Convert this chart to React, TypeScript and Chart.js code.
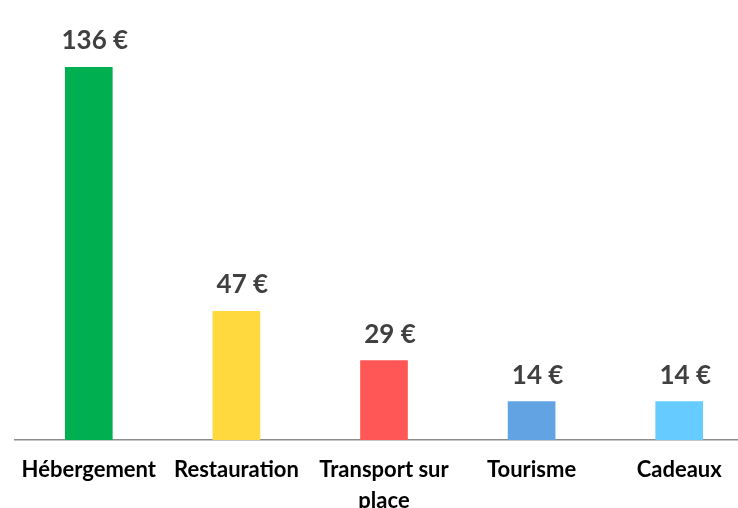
import React, { useEffect, useRef } from "react";
import { Chart, registerables } from "chart.js";

Chart.register(...registerables);

const categories: (string | string[])[] = ["Hébergement", "Restauration", ["Transport sur", "place"], "Tourisme", "Cadeaux"];
const values: number[] = [136, 47, 29, 14, 14];
const valueLabels: string[] = ["136 €", "47 €", "29 €", "14 €", "14 €"];
const barColors: string[] = ["#00B050", "#FFD93D", "#FF5656", "#62A4E3", "#66CCFF"];

const FONT = "Lato, 'Open Sans', sans-serif";

const valueLabelPlugin = {
  id: "valueLabels",
  afterDatasetsDraw(chart: any) {
    const ctx = chart.ctx;
    const meta = chart.getDatasetMeta(0);
    ctx.save();
    ctx.font = `bold 26px ${FONT}`;
    ctx.fillStyle = "#404040";
    ctx.textAlign = "center";
    ctx.textBaseline = "alphabetic";
    meta.data.forEach((bar: any, i: number) => {
      ctx.fillText(valueLabels[i], bar.x + 6, bar.y - 18);
    });
    ctx.restore();
  },
};

export default function App() {
  const ref = useRef<HTMLCanvasElement | null>(null);
  useEffect(() => {
    if (!ref.current) return;
    const chart = new Chart(ref.current, {
      type: "bar",
      data: {
        labels: categories,
        datasets: [
          {
            data: values,
            backgroundColor: barColors,
            barThickness: 47,
          },
        ],
      },
      options: {
        animation: false,
        responsive: false,
        devicePixelRatio: 1,
        layout: { padding: { left: 15, right: 7, top: 29, bottom: 20 } },
        plugins: { legend: { display: false }, tooltip: { enabled: false } },
        scales: {
          x: {
            grid: { display: false, drawTicks: false },
            border: { display: true, color: "#8C8C8C", width: 1.5 },
            ticks: {
              color: "#000000",
              padding: 15,
              maxRotation: 0,
              autoSkip: false,
              font: { family: FONT, size: 22, weight: "bold", lineHeight: 1.4 },
            },
            afterFit(scale: any) {
              scale.height = 100;
            },
          },
          y: {
            display: false,
            min: 0,
            max: 150,
          },
        },
      },
      plugins: [valueLabelPlugin],
    });
    return () => chart.destroy();
  }, []);
  return (
    <canvas
      ref={ref}
      width={760}
      height={560}
      style={{ position: "fixed", left: 0, top: 0, width: 760, height: 560 }}
    />
  );
}
